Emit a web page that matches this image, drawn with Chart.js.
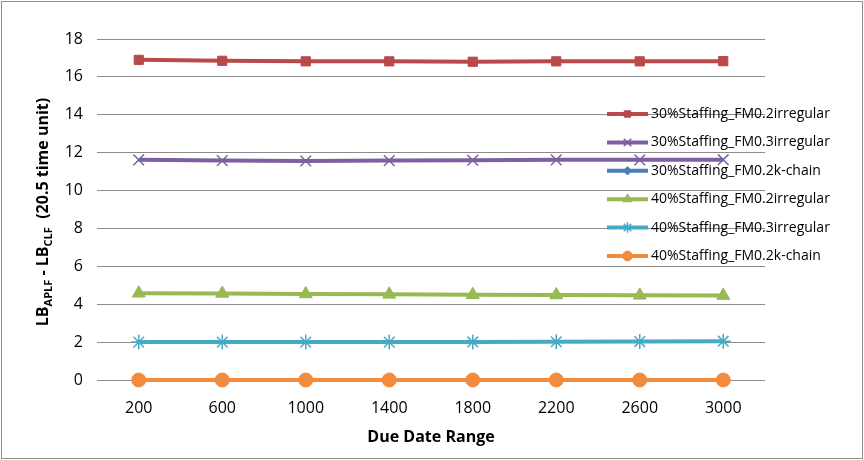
<!DOCTYPE html>
<html>
<head>
<meta charset="utf-8">
<script src="https://cdn.jsdelivr.net/npm/chart.js@4"></script>
<style>
  html, body { margin:0; padding:0; background:#fff; }
  #wrap { width:864px; height:460px; }
</style>
</head>
<body>
<div id="wrap"><canvas id="chart" width="864" height="460"></canvas></div>
<script>
// data
const dueDates = ["200","600","1000","1400","1800","2200","2600","3000"];
const s30_02irr = [16.9, 16.85, 16.82, 16.82, 16.8, 16.82, 16.82, 16.83];
const s30_03irr = [11.62, 11.58, 11.56, 11.58, 11.6, 11.62, 11.62, 11.63];
const s30_02k = [0, 0, 0, 0, 0, 0, 0, 0];
const s40_02irr = [4.58, 4.57, 4.54, 4.52, 4.5, 4.49, 4.47, 4.46];
const s40_03irr = [2.0, 2.0, 2.0, 2.0, 2.01, 2.02, 2.03, 2.05];
const s40_02k = [0, 0, 0, 0, 0, 0, 0, 0];
const yTicks = [0, 2, 4, 6, 8, 10, 12, 14, 16, 18];

const FONT = "'Open Sans', sans-serif";

function series(label, data, color, style, radius, order) {
  return {
    label, data, order,
    borderColor: color, backgroundColor: color,
    borderWidth: 4, pointStyle: style, pointRadius: radius,
    pointBorderColor: color, pointBackgroundColor: color,
    pointBorderWidth: (style === "crossRot" || style === "star") ? 1.5 : 1,
    tension: 0, clip: false
  };
}

const datasets = [
  series("30%Staffing_FM0.2irregular", s30_02irr, "#B9494A", "rect", 6.5, 0),
  series("30%Staffing_FM0.3irregular", s30_03irr, "#7D60A0", "crossRot", 7.5, 0),
  series("30%Staffing_FM0.2k-chain", s30_02k, "#4A7EBB", "rectRot", 6, 1),
  series("40%Staffing_FM0.2irregular", s40_02irr, "#98B954", "triangle", 7.5, 0),
  series("40%Staffing_FM0.3irregular", s40_03irr, "#46AAC5", "star", 7.5, 0),
  series("40%Staffing_FM0.2k-chain", s40_02k, "#F38B3C", "circle", 7, -1)
];

// legend + y title + frame
const extras = {
  id: "extras",
  afterDraw(chart) {
    const ctx = chart.ctx;
    ctx.save();
    // outer frame
    ctx.strokeStyle = "#8c8c8c";
    ctx.lineWidth = 1;
    ctx.strokeRect(1.5, 1.5, 861, 457);

    // legend
    const x0 = 607, x1 = 648, tx = 651, y0 = 114, step = 28.4;
    chart.data.datasets.forEach((ds, i) => {
      const y = y0 + i * step;
      ctx.strokeStyle = ds.borderColor;
      ctx.lineWidth = 4;
      ctx.beginPath(); ctx.moveTo(x0, y); ctx.lineTo(x1, y); ctx.stroke();
      ctx.fillStyle = ds.borderColor;
      ctx.lineWidth = ds.pointBorderWidth;
      Chart.helpers.drawPoint(ctx, {
        pointStyle: ds.pointStyle, radius: ds.pointRadius * 0.7, rotation: 0,
        borderWidth: ds.pointBorderWidth
      }, (x0 + x1) / 2, y);
      ctx.fillStyle = "#000";
      ctx.font = "14px " + FONT;
      ctx.textBaseline = "middle";
      ctx.fillText(ds.label, tx, y);
    });

    // y title with subscripts
    ctx.translate(42, 212);
    ctx.rotate(-Math.PI / 2);
    ctx.fillStyle = "#000";
    ctx.textBaseline = "alphabetic";
    const big = "bold 16px " + FONT, small = "bold 11px " + FONT;
    const parts = [["LB", big, 0], ["APLF", small, 4], [" - LB", big, 0], ["CLF", small, 4], ["  (20.5 time unit)", big, 0]];
    let w = 0;
    parts.forEach(p => { ctx.font = p[1]; w += ctx.measureText(p[0]).width; });
    let x = -w / 2;
    parts.forEach(p => {
      ctx.font = p[1];
      ctx.fillText(p[0], x, 6 + p[2]);
      x += ctx.measureText(p[0]).width;
    });
    ctx.restore();
  }
};

new Chart(document.getElementById("chart"), {
  type: "line",
  data: { labels: dueDates, datasets },
  options: {
    responsive: false,
    animation: false,
    layout: { padding: { top: 39, right: 99, left: 0, bottom: 0 } },
    plugins: {
      legend: { display: false },
      tooltip: { enabled: false }
    },
    scales: {
      x: {
        offset: true,
        grid: { display: false, drawTicks: false },
        border: { display: false },
        ticks: { color: "#000", font: { family: FONT, size: 16 }, padding: 19 },
        title: { display: true, text: "Due Date Range", color: "#000", font: { family: FONT, size: 16, weight: "bold" }, padding: { top: 4, bottom: 13 } },
        afterFit(s) { s.height = 80; }
      },
      y: {
        min: 0, max: 18,
        afterBuildTicks(s) { s.ticks = yTicks.map(v => ({ value: v })); },
        grid: { color: "#8c8c8c", lineWidth: 1, drawTicks: false },
        border: { display: false },
        ticks: { color: "#000", font: { family: FONT, size: 16 }, padding: 14 },
        afterFit(s) { s.width = 97; }
      }
    }
  },
  plugins: [extras]
});
</script>
</body>
</html>
